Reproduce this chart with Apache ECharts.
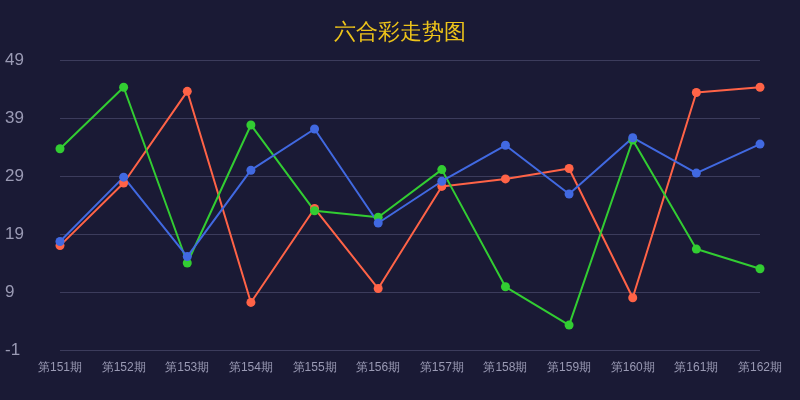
<!DOCTYPE html>
<html>
<head>
<meta charset="utf-8">
<script src="https://cdn.jsdelivr.net/npm/echarts@6/dist/echarts.min.js"></script>
<style>
  html, body { margin: 0; padding: 0; background: #1a1a35; }
  #chart { width: 800px; height: 400px; }
</style>
</head>
<body>
<div id="chart"></div>
<script>
// 期号
const periods = ['第151期', '第152期', '第153期', '第154期', '第155期', '第156期',
  '第157期', '第158期', '第159期', '第160期', '第161期', '第162期'];

// 三条走势线（读图估值）
const redLine = [17.0, 27.8, 43.6, 7.2, 23.4, 9.6, 27.2, 28.5, 30.3, 8.0, 43.4, 44.3];
const greenLine = [33.7, 44.3, 14.0, 37.8, 23.0, 21.9, 30.1, 9.9, 3.3, 35.2, 16.4, 13.0];
const blueLine = [17.7, 28.8, 15.1, 30.0, 37.1, 20.9, 28.1, 34.3, 25.9, 35.6, 29.5, 34.5];

const chart = echarts.init(document.getElementById('chart'));

function line(data, color) {
  return {
    type: 'line',
    data: data,
    symbol: 'circle',
    symbolSize: 9,
    itemStyle: { color: color },
    lineStyle: { color: color, width: 2 }
  };
}

chart.setOption({
  backgroundColor: '#1a1a35',
  animation: false,
  title: {
    text: '六合彩走势图',
    left: 'center',
    top: 17,
    textStyle: { color: '#eec41a', fontSize: 22, fontWeight: 'normal' }
  },
  grid: { left: 60, right: 40, top: 60, bottom: 50 },
  xAxis: {
    type: 'category',
    data: periods,
    boundaryGap: false,
    axisLine: { show: false },
    axisTick: { show: false },
    axisLabel: { color: '#9a9ab4', fontSize: 12, margin: 12 }
  },
  yAxis: {
    type: 'value',
    min: -1,
    max: 49,
    interval: 10,
    axisLine: { show: false },
    axisTick: { show: false },
    axisLabel: { color: '#9a9ab4', fontSize: 17, align: 'left', margin: 55, padding: [4, 0, 0, 0] },
    splitLine: { lineStyle: { color: '#3c3c5c', width: 1 } }
  },
  series: [
    line(redLine, '#ff6347'),
    line(greenLine, '#32cd32'),
    line(blueLine, '#4169e1')
  ]
});
</script>
</body>
</html>
